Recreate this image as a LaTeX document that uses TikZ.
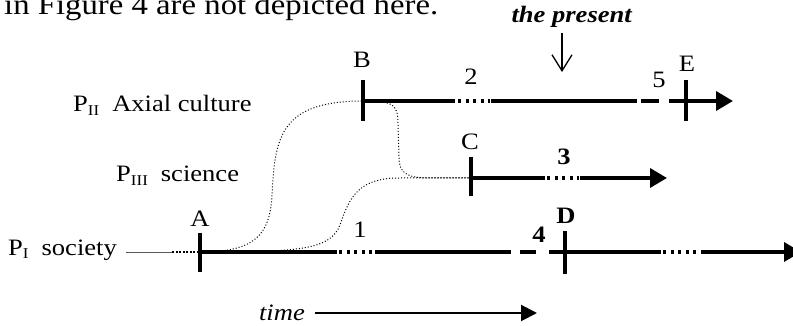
\documentclass[tikz,border=0pt]{standalone}
\usepackage{fontspec}
\setmainfont{Liberation Serif}[FakeStretch=1.13]
\usetikzlibrary{arrows.meta}
\newcommand{\psub}[1]{\raisebox{-3.5pt}{\fontsize{15}{15}\selectfont #1}}

\begin{document}
\begin{tikzpicture}[x=1pt,y=-1pt,
  lbl/.style={font=\fontsize{23.5}{28}\selectfont,inner sep=0pt,anchor=base},
  era/.style={line width=3.6pt},
  gapdots/.style={line width=3.4pt,dash pattern=on 3pt off 4.5pt},
  tick/.style={line width=3.6pt},
  link/.style={line width=1pt,dash pattern=on 1pt off 2pt},
  tip/.style={-{Triangle[length=17pt,width=19pt]}}]
\useasboundingbox (0,0) rectangle (793,326);

\node[lbl,anchor=base west,font=\fontsize{29}{33}\selectfont] (note) at (4,15) {in Figure 4 are not depicted here.};
\node[lbl] (present) at (572,23) {\textbf{\textit{the present}}};
\coordinate (nowtop) at (562,33);
\coordinate (nowbot) at (562,72);
\draw[line width=1.3pt,-{Straight Barb[length=16pt,width=20pt]}] (nowtop) -- (nowbot);

\node[lbl,anchor=base west] (pII) at (73,112) {P\psub{II}\hspace{13pt}Axial culture};
\node[lbl,anchor=base west] (pIII) at (116,182) {P\psub{III}\hspace{13pt}science};
\node[lbl,anchor=base west] (pI) at (8,255) {P\psub{I}\hspace{13pt}society};

\coordinate (A) at (200,252);
\coordinate (B) at (363,101);
\coordinate (C) at (471,178);
\coordinate (D) at (565,252);
\coordinate (E) at (686,101);
\coordinate (pIstart) at (126,252);

% P_II line
\draw[era] (B) -- (455,101);
\draw[gapdots] (458,101) -- (490,101);
\draw[era] (491,101) -- (637,101);
\draw[era] (641,101) -- (659,101);
\draw[era,tip] (669,101) -- (733,101);

% P_III line
\draw[era] (C) -- (545,178);
\draw[gapdots] (547,178) -- (579,178);
\draw[era,tip] (580,178) -- (667,178);

% P_I line
\draw[line width=0.8pt,gray!70!black] (pIstart) -- (172,252);
\draw[line width=2pt,dash pattern=on 2pt off 1.5pt] (172,252) -- (A);
\draw[era] (A) -- (337,252);
\draw[gapdots] (339,252) -- (374,252);
\draw[era] (375,252) -- (511,252);
\draw[era] (520,252) -- (536,252);
\draw[era] (549,252) -- (661,252);
\draw[gapdots] (663,252) -- (699,252);
\draw[era,tip] (701,252) -- (801,252);

% ticks
\draw[tick] (A) ++(0,-19.5) -- ++(0,39);
\draw[tick] (B) ++(0,-21) -- ++(0,41);
\draw[tick] (C) ++(0,-21) -- ++(0,39);
\draw[tick] (D) ++(0,-21) -- ++(0,43);
\draw[tick] (E) ++(0,-21) -- ++(0,41);

% dotted links
\draw[link] (A) .. controls (255,252) and (270,235) .. (272,195) .. controls (275,140) and (278,101) .. (B);
\draw[link] (B) .. controls (395,101) and (398,105) .. (398,125) -- (399,157) .. controls (399,172) and (405,178) .. (430,178) -- (C);
\draw[link] (A) .. controls (300,252) and (330,250) .. (340,225) .. controls (350,195) and (360,178) .. (400,178) -- (C);

% labels
\node[lbl] (labA) at (200,226) {A};
\node[lbl] (labB) at (362,68) {B};
\node[lbl] (labC) at (470,150) {C};
\node[lbl] (labD) at (566,223) {\textbf{D}};
\node[lbl] (labE) at (687,72) {E};
\node[lbl] (one) at (360,237) {1};
\node[lbl] (two) at (471,85) {2};
\node[lbl] (three) at (564,165) {\textbf{3}};
\node[lbl] (four) at (539,242) {\textbf{4}};
\node[lbl] (five) at (659,88) {5};

\node[lbl,anchor=east,inner xsep=10pt] (time) at (315,313) {\textit{time}};
\coordinate (timeend) at (537,313);
\draw[line width=2pt,-{Triangle[length=16pt,width=16pt]}] (time.east) -- (timeend);
\end{tikzpicture}
\end{document}
